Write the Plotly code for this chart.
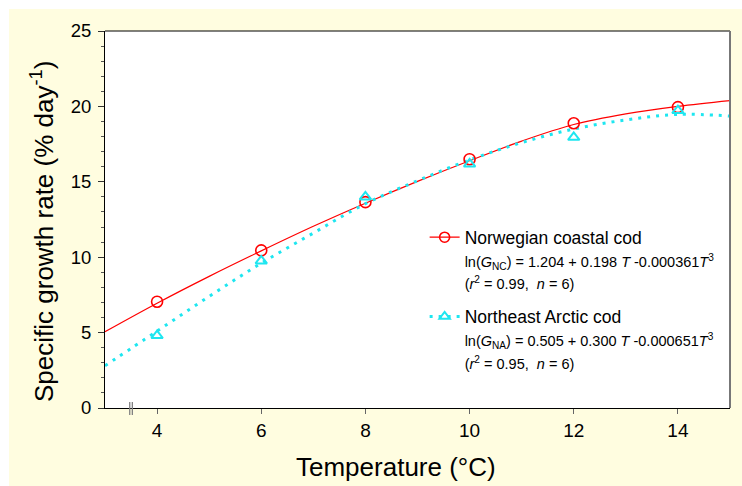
import plotly.graph_objects as go

# Observed data
temps_obs = [4, 6, 8, 10, 12, 14]
nc_obs = [7.05, 10.45, 13.65, 16.5, 18.88, 19.95]
na_obs = [4.8, 9.75, 14.0, 16.18, 17.95, 19.72]

# Fitted curves
temps_fit = [3, 4, 5, 6, 7, 8, 9, 10, 11, 12, 13, 14, 15]
nc_fit = [5.06, 6.95, 8.73, 10.42, 12.05, 13.58, 15.03, 16.4, 17.7, 18.8, 19.5, 20.0, 20.38]
na_fit = [2.8, 5.1, 7.4, 9.6, 11.6, 13.55, 15.07, 16.45, 17.6, 18.5, 19.1, 19.47, 19.36]

xticks = [4, 6, 8, 10, 12, 14]
yticks = [0, 5, 10, 15, 20, 25]

RED = "#FF0000"
CYAN = "#1EE6F0"
FONT = "Arial, Liberation Sans, sans-serif"

nbsp = "\u00a0"
EQ = "<span style='font-size:14.5px'>"
nc_name = ("Norwegian coastal cod<br>"
           + EQ + "ln(<i>G</i><sub>NC</sub>) = 1.204 + 0.198" + nbsp + "<i>T</i> -0.000361<i>T</i><sup>3</sup></span><br>"
           + EQ + "(<i>r</i><sup>2</sup> = 0.99," + nbsp + nbsp + "<i>n</i> = 6)</span>")
na_name = ("Northeast Arctic cod<br>"
           + EQ + "ln(<i>G</i><sub>NA</sub>) = 0.505 + 0.300" + nbsp + "<i>T</i> -0.000651<i>T</i><sup>3</sup></span><br>"
           + EQ + "(<i>r</i><sup>2</sup> = 0.95," + nbsp + nbsp + "<i>n</i> = 6)</span>")

fig = go.Figure()

fig.add_trace(go.Scatter(x=temps_fit, y=nc_fit, mode="lines", line=dict(color=RED, width=1.2, shape="spline"),
                         showlegend=False, hoverinfo="skip"))
fig.add_trace(go.Scatter(x=temps_fit, y=na_fit, mode="lines", line=dict(color=CYAN, width=3, dash="3px,6px", shape="spline"),
                         showlegend=False, hoverinfo="skip"))
fig.add_trace(go.Scatter(x=temps_obs, y=nc_obs, mode="markers",
                         marker=dict(symbol="circle-open", size=11, color=RED, line=dict(width=1.6, color=RED)),
                         showlegend=False))
fig.add_trace(go.Scatter(x=temps_obs, y=na_obs, mode="markers",
                         marker=dict(symbol="triangle-up-open", size=10, color=CYAN, line=dict(width=2, color=CYAN)),
                         showlegend=False))

# legend entries
fig.add_trace(go.Scatter(x=[None], y=[None], mode="lines+markers", name=nc_name, legendgroup="a",
                         line=dict(color=RED, width=1.2),
                         marker=dict(symbol="circle-open", size=10, color=RED, line=dict(width=1.6, color=RED))))
fig.add_trace(go.Scatter(x=[None], y=[None], mode="lines+markers", name=na_name, legendgroup="b",
                         line=dict(color=CYAN, width=3, dash="3px,6px"),
                         marker=dict(symbol="triangle-up-open", size=9, color=CYAN, line=dict(width=2, color=CYAN))))

shapes = [
    # yellow page background
    dict(type="rect", xref="paper", yref="paper", x0=(9 - 105) / 625, x1=1.1, y0=-0.25, y1=(408 - 9) / 377,
         fillcolor="#FFFDE0", line=dict(width=0), layer="below"),
    # white plot area
    dict(type="rect", xref="paper", yref="paper", x0=0, x1=1, y0=0, y1=1,
         fillcolor="white", line=dict(width=0), layer="below"),
    # top border
    dict(type="line", xref="paper", yref="paper", x0=0, x1=1, y0=1, y1=1, line=dict(color="black", width=1)),
    # right border (grey)
    dict(type="line", xref="paper", yref="paper", x0=1, x1=1, y0=0, y1=1, line=dict(color="#777777", width=2)),
]
# axis break marks at x = 3.5
for dx in (-1.3, 1.3):
    shapes.append(dict(type="line", xref="x", yref="paper", xsizemode="pixel", ysizemode="pixel",
                       xanchor=3.5, yanchor=0, x0=dx, x1=dx, y0=-7, y1=6,
                       line=dict(color="#808080", width=1.3)))

fig.update_layout(
    width=742, height=486,
    margin=dict(l=105, r=12, t=31, b=78),
    paper_bgcolor="white",
    plot_bgcolor="rgba(0,0,0,0)",
    font=dict(family=FONT, color="black"),
    shapes=shapes,
    showlegend=True,
    legend=dict(x=0.5114, y=0.5005, xanchor="left", yanchor="top", bgcolor="rgba(0,0,0,0)",
                font=dict(family=FONT, size=17.5, color="black"), valign="top", tracegroupgap=8),
    xaxis=dict(range=[3, 15], tickvals=xticks, ticktext=[str(v) for v in xticks],
               ticks="outside", ticklen=5, tickcolor="#666666", tickwidth=1.2,
               showline=True, linecolor="black", linewidth=1, showgrid=False, zeroline=False,
               tickfont=dict(size=19, family=FONT, color="black")),
    yaxis=dict(range=[0, 25], tickvals=yticks, ticks="outside", ticklen=6, tickcolor="#333333",
               minor=dict(dtick=1, ticks="outside", ticklen=3, tickcolor="#555555"),
               showline=True, linecolor="black", linewidth=1, showgrid=False, zeroline=False,
               ticklabelstandoff=3,
               tickfont=dict(size=18.5, family=FONT, color="black")),
    annotations=[
        dict(text="Temperature (°C)", xref="paper", yref="paper", x=(396 - 105) / 625, y=(408 - 467) / 377,
             xanchor="center", yanchor="middle", showarrow=False, font=dict(size=26, family=FONT)),
        dict(text="Specific growth rate (% day<sup>-1</sup>)", xref="paper", yref="paper",
             x=(42 - 105) / 625, y=(408 - 232) / 377, xanchor="center", yanchor="middle",
             textangle=-90, showarrow=False, font=dict(size=26, family=FONT)),
    ],
)

fig.write_html("out.html")
